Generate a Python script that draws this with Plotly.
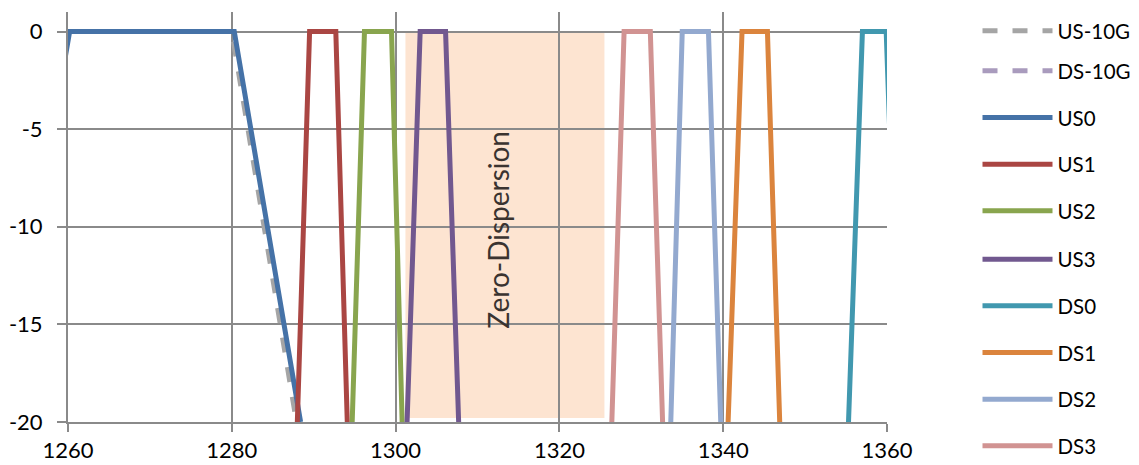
import plotly.graph_objects as go

# ---- data (wavelength nm, attenuation dB) ----
US10G_X = [1252.0, 1260.0, 1280.0, 1287.9]
US10G_Y = [-20, 0, 0, -20]
DS10G_X = [1567.0, 1575.0, 1580.0, 1588.0]
DS10G_Y = [-20, 0, 0, -20]

US0_X = [1252.1, 1260.2, 1280.3, 1288.4]
US0_Y = [-20, 0, 0, -20]
US1_X = [1288.0, 1289.5, 1292.7, 1294.1]
US1_Y = [-20, 0, 0, -20]
US2_X = [1294.7, 1296.2, 1299.5, 1300.8]
US2_Y = [-20, 0, 0, -20]
US3_X = [1301.4, 1303.0, 1306.1, 1307.7]
US3_Y = [-20, 0, 0, -20]

DS0_X = [1355.3, 1357.0, 1359.9, 1361.6]
DS0_Y = [-20, 0, 0, -20]
DS1_X = [1340.6, 1342.3, 1345.4, 1346.9]
DS1_Y = [-20, 0, 0, -20]
DS2_X = [1333.6, 1335.0, 1338.2, 1339.7]
DS2_Y = [-20, 0, 0, -20]
DS3_X = [1326.4, 1327.9, 1331.1, 1332.6]
DS3_Y = [-20, 0, 0, -20]

ZD_X = [1301.2, 1325.5]
ZD_Y = [-19.8, 0]
ZD_LABEL = "Zero-Dispersion"

X_TICKS = [1260, 1280, 1300, 1320, 1340, 1360]
Y_TICKS = [0, -5, -10, -15, -20]
Y_TICK_LABELS = ["0", "-5", "-10", "-15", "-20"]

series = [
    ("US-10G", US10G_X, US10G_Y, "#A5A5A5", "dash", "legend"),
    ("DS-10G", DS10G_X, DS10G_Y, "#A99BBD", "dash", "legend2"),
    ("US0", US0_X, US0_Y, "#4572A7", "solid", "legend2"),
    ("US1", US1_X, US1_Y, "#AA4643", "solid", "legend2"),
    ("US2", US2_X, US2_Y, "#89A54E", "solid", "legend2"),
    ("US3", US3_X, US3_Y, "#71588F", "solid", "legend3"),
    ("DS0", DS0_X, DS0_Y, "#4198AF", "solid", "legend3"),
    ("DS1", DS1_X, DS1_Y, "#DB843D", "solid", "legend3"),
    ("DS2", DS2_X, DS2_Y, "#93A9CF", "solid", "legend3"),
    ("DS3", DS3_X, DS3_Y, "#D19392", "solid", "legend3"),
]

FONT = "Lato, 'Open Sans', sans-serif"
GRID = "#8A8A8A"
LABEL_X_SHIFT = -0.85  # label sits slightly left of the band centre

fig = go.Figure()
for name, xs, ys, color, dash, lg in series:
    fig.add_trace(go.Scatter(
        x=xs, y=ys, mode="lines", name=name, legendgroup=name, legend=lg,
        line=dict(color=color, width=5, dash=dash),
    ))

fig.add_shape(type="rect", xref="x", yref="y",
              x0=ZD_X[0], x1=ZD_X[1], y0=ZD_Y[0], y1=ZD_Y[1],
              fillcolor="#FDE4D1", line=dict(width=0), layer="below")
fig.add_annotation(x=(ZD_X[0] + ZD_X[1]) / 2 + LABEL_X_SHIFT, y=-10.15,
                   xref="x", yref="y",
                   text=ZD_LABEL, textangle=-90, showarrow=False,
                   font=dict(family=FONT, size=28, color="#3a3330"))

legend_common = dict(xanchor="left", yanchor="top", itemwidth=70,
                     tracegroupgap=17, bgcolor="rgba(0,0,0,0)",
                     font=dict(family=FONT, size=20.5, color="black"))
LEG_X = 1.1105

# page body has an 8px margin: figure is sized to fit the 1139x465 window
fig.update_layout(
    width=1131, height=457,
    margin=dict(l=59.5, r=252, t=4, b=43.3, autoexpand=False),
    paper_bgcolor="white", plot_bgcolor="white",
    font=dict(family=FONT, size=22, color="black"),
    showlegend=True,
    legend=dict(x=LEG_X, y=1.0024, **legend_common),
    legend2=dict(x=LEG_X, y=0.9048, **legend_common),
    legend3=dict(x=LEG_X, y=0.4454, **legend_common),
)
fig.update_xaxes(range=[1260, 1360], tickvals=X_TICKS, showgrid=True,
                 gridcolor=GRID, gridwidth=2, showline=True, linecolor=GRID,
                 linewidth=2, ticks="outside", ticklen=8, tickcolor=GRID,
                 tickwidth=2, zeroline=False, ticklabelstandoff=0)
fig.update_yaxes(range=[-20, 1], tickvals=Y_TICKS, ticktext=Y_TICK_LABELS,
                 showgrid=True,
                 gridcolor=GRID, gridwidth=2, showline=True, linecolor=GRID,
                 linewidth=2, ticks="outside", ticklen=9, tickcolor=GRID,
                 tickwidth=2, zeroline=False, ticklabelstandoff=10)

fig.write_html("out.html")
